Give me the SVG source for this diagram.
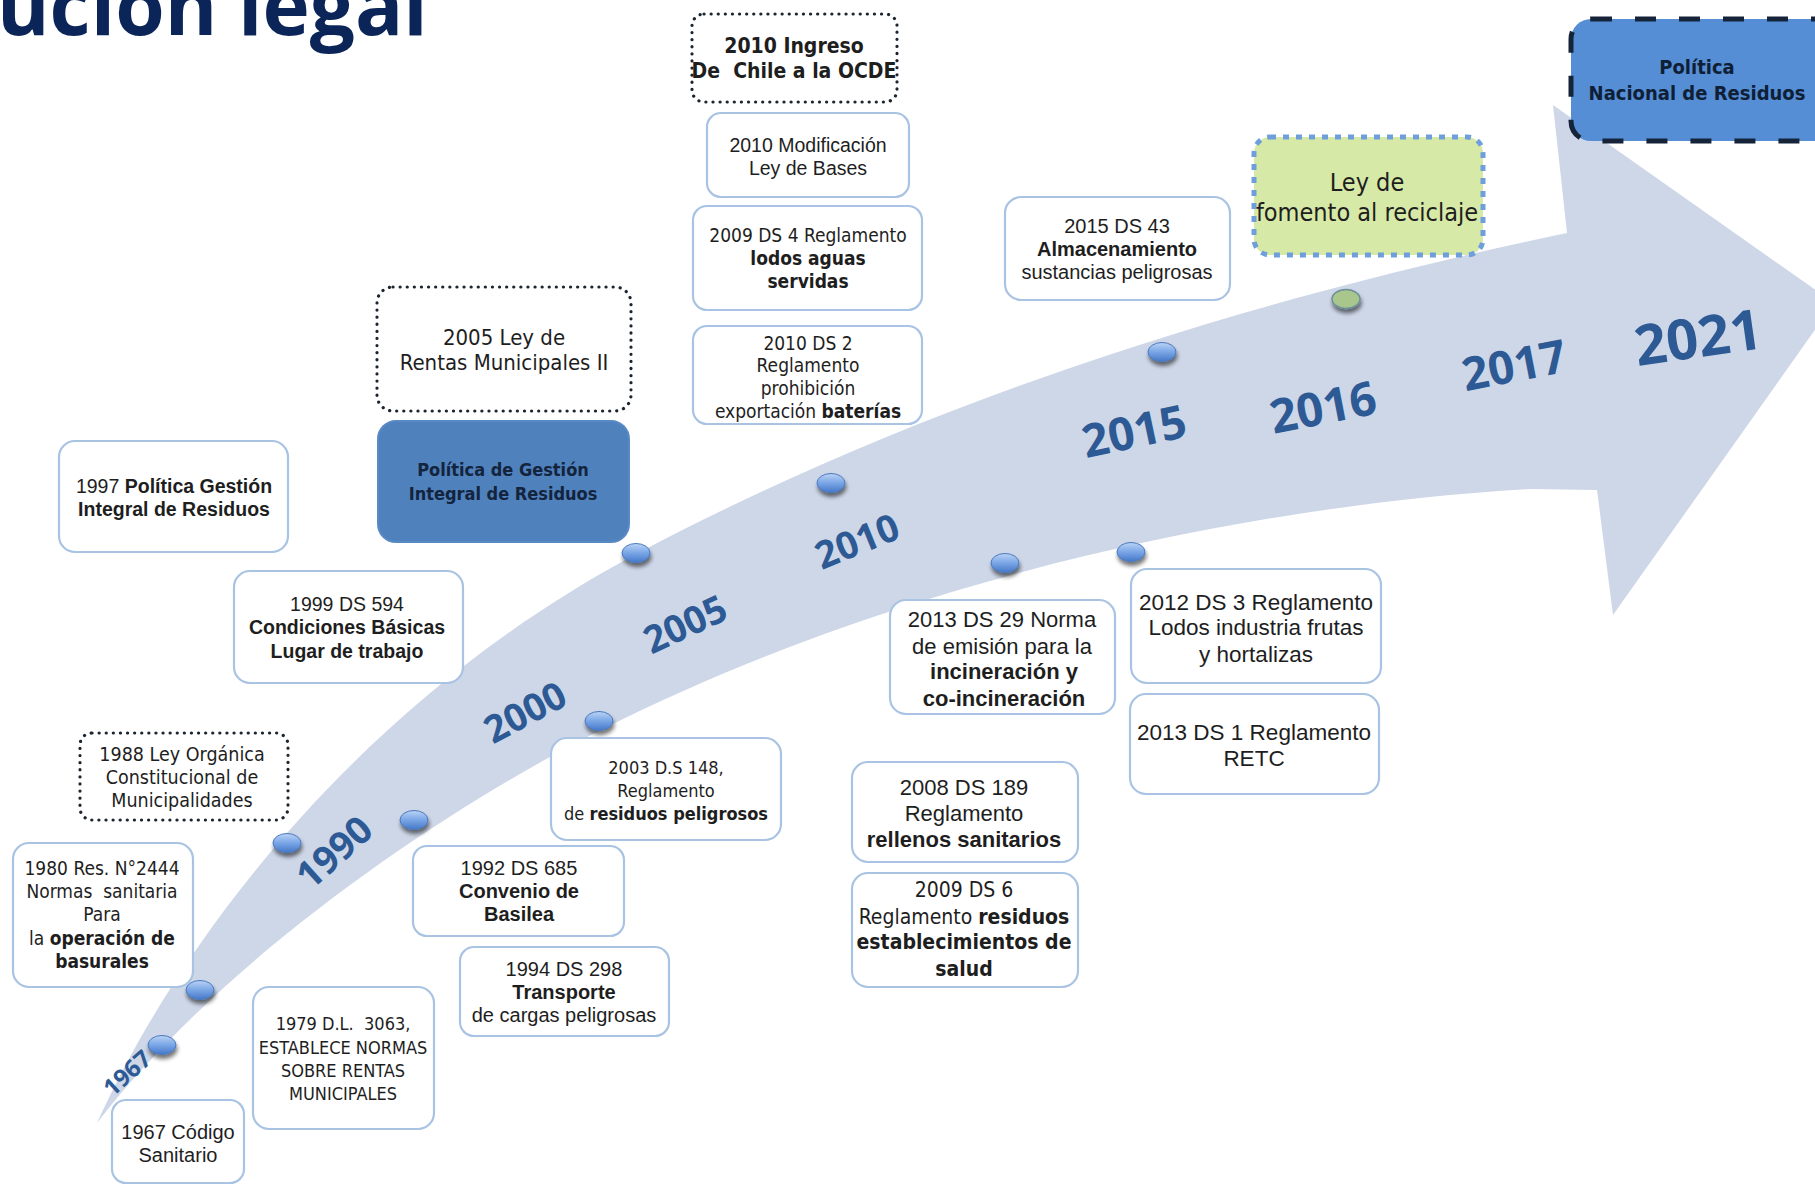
<svg xmlns="http://www.w3.org/2000/svg" width="1815" height="1187" viewBox="0 0 1815 1187">
<defs>
<style>
.bx{fill:#fff;stroke:#a9c3e3;stroke-width:2.2}
.dt{fill:#fff;stroke:#1b2530;stroke-width:3.2;stroke-dasharray:0.1 7;stroke-linecap:round}
.ar{font-family:"Liberation Sans",Arial,sans-serif;fill:#1e1e1e;text-anchor:middle}
.th{font-family:"DejaVu Sans Condensed","DejaVu Sans",sans-serif;font-stretch:condensed;fill:#1e1e1e;text-anchor:middle}
.b{font-weight:bold}
.yr{font-family:"Open Sans",sans-serif;font-weight:700;fill:#2d5a94;text-anchor:middle}
.dot{fill:url(#dotg);stroke:#4a78bd;stroke-width:1}
</style>
<linearGradient id="dotg" x1="0" y1="0" x2="0" y2="1">
<stop offset="0" stop-color="#bcd4f5"/>
<stop offset="0.45" stop-color="#7faae8"/>
<stop offset="1" stop-color="#4678c8"/>
</linearGradient>
<filter id="sh" x="-50%" y="-50%" width="200%" height="220%">
<feGaussianBlur in="SourceAlpha" stdDeviation="2.2"/>
<feOffset dx="1" dy="4" result="o"/>
<feComponentTransfer><feFuncA type="linear" slope="0.55"/></feComponentTransfer>
<feMerge><feMergeNode/><feMergeNode in="SourceGraphic"/></feMerge>
</filter>
</defs>
<rect width="1815" height="1187" fill="#fff"/>

<text x="-3" y="35" font-family="'Open Sans',sans-serif" font-weight="700" font-size="80" fill="#0b2559">ución legal</text>

<g id="connectors">
<path id="timeline-arrow" d="M97,1123 C180,940 360,700 640,552 C850,441 1150,320 1567,233 L1553,105 L1834,303 L1613,615 L1597,490 L1530,489 C1250,505 900,580 607,727 C460,800 230,950 97,1123 Z" fill="#ced7e8"/>
<g id="markers" filter="url(#sh)">
<ellipse class="dot" cx="162" cy="1045" rx="14" ry="9.5"/>
<ellipse class="dot" cx="200" cy="990" rx="14" ry="9.5"/>
<ellipse class="dot" cx="287" cy="843" rx="14" ry="9.5"/>
<ellipse class="dot" cx="414" cy="820" rx="14" ry="9.5"/>
<ellipse class="dot" cx="599" cy="721" rx="14" ry="9.5"/>
<ellipse class="dot" cx="636" cy="553" rx="14" ry="9.5"/>
<ellipse class="dot" cx="831" cy="483" rx="14" ry="9.5"/>
<ellipse class="dot" cx="1005" cy="563" rx="14" ry="9.5"/>
<ellipse class="dot" cx="1131" cy="552" rx="14" ry="9.5"/>
<ellipse class="dot" cx="1162" cy="352" rx="14" ry="9.5"/>
<ellipse cx="1346" cy="299" rx="14" ry="9.5" fill="#a9c68c" stroke="#6d8f9a" stroke-width="1.5"/>
</g>
</g>

<g id="years">
<text class="yr" font-size="24" transform="translate(127,1073) rotate(-42)" dy="0.36em">1967</text>
<text class="yr" font-size="38" transform="translate(334,852) rotate(-42)" dy="0.36em">1990</text>
<text class="yr" font-size="38" transform="translate(525,712) rotate(-28)" dy="0.36em">2000</text>
<text class="yr" font-size="38" transform="translate(685,624) rotate(-25)" dy="0.36em">2005</text>
<text class="yr" font-size="38" transform="translate(857,541) rotate(-22)" dy="0.36em">2010</text>
<text class="yr" font-size="46" transform="translate(1134,431) rotate(-12)" dy="0.36em">2015</text>
<text class="yr" font-size="47" transform="translate(1323,407) rotate(-11)" dy="0.36em">2016</text>
<text class="yr" font-size="46" transform="translate(1514,365) rotate(-11)" dy="0.36em">2017</text>
<text class="yr" font-size="56" transform="translate(1698,337) rotate(-8)" dy="0.36em">2021</text>
</g>

<g id="n-ocde">
<rect class="dt" x="692" y="14" width="205" height="88" rx="12"/>
<text class="th b" font-size="21" x="794" y="53">2010 Ingreso</text>
<text class="th b" font-size="21" x="794" y="78" xml:space="preserve">De  Chile a la OCDE</text>
</g>
<g id="n-2010-bases">
<rect class="bx" x="707" y="113" width="202" height="84" rx="14"/>
<text class="ar" font-size="19.5" x="808" y="152">2010 Modificación</text>
<text class="ar" font-size="19.5" x="808" y="175">Ley de Bases</text>
</g>
<g id="n-2009-ds4">
<rect class="bx" x="693" y="206" width="229" height="104" rx="14"/>
<text class="th" font-size="19" x="808" y="242">2009 DS 4 Reglamento</text>
<text class="th b" font-size="19" x="808" y="265">lodos aguas</text>
<text class="th b" font-size="19" x="808" y="288">servidas</text>
</g>
<g id="n-2010-ds2">
<rect class="bx" x="693" y="326" width="229" height="98" rx="14"/>
<text class="th" font-size="19" x="808" y="350">2010 DS 2</text>
<text class="th" font-size="19" x="808" y="372">Reglamento</text>
<text class="th" font-size="19" x="808" y="395">prohibición</text>
<text class="th" font-size="19" x="808" y="418">exportación <tspan class="b">baterías</tspan></text>
</g>
<g id="n-2005-rentas">
<rect class="dt" x="377" y="287" width="254" height="124" rx="16"/>
<text class="th" font-size="22" x="504" y="345">2005 Ley de</text>
<text class="th" font-size="22" x="504" y="370">Rentas Municipales II</text>
</g>
<g id="n-politica-gestion">
<rect x="378" y="421" width="251" height="121" rx="18" fill="#4f81bd" stroke="#5a8ac4" stroke-width="2"/>
<text class="th b" font-size="18" x="503" y="476" style="fill:#14243d">Política de Gestión</text>
<text class="th b" font-size="18" x="503" y="500" style="fill:#14243d">Integral de Residuos</text>
</g>
<g id="n-1997">
<rect class="bx" x="59" y="441" width="229" height="111" rx="16"/>
<text class="ar" font-size="19.5" x="174" y="493">1997 <tspan class="b">Política Gestión</tspan></text>
<text class="ar b" font-size="19.5" x="174" y="516">Integral de Residuos</text>
</g>
<g id="n-1999">
<rect class="bx" x="234" y="571" width="229" height="112" rx="16"/>
<text class="ar" font-size="19.5" x="347" y="611">1999 DS 594</text>
<text class="ar b" font-size="19.5" x="347" y="634">Condiciones Básicas</text>
<text class="ar b" font-size="19.5" x="347" y="658">Lugar de trabajo</text>
</g>
<g id="n-1988">
<rect class="dt" x="80" y="733" width="208" height="87" rx="12"/>
<text class="th" font-size="19.5" x="182" y="761">1988 Ley Orgánica</text>
<text class="th" font-size="19.5" x="182" y="784">Constitucional de</text>
<text class="th" font-size="19.5" x="182" y="807">Municipalidades</text>
</g>
<g id="n-1980">
<rect class="bx" x="13" y="843" width="180" height="144" rx="16"/>
<text class="th" font-size="19" x="102" y="875">1980 Res. N°2444</text>
<text class="th" font-size="19" x="102" y="898" xml:space="preserve">Normas  sanitaria</text>
<text class="th" font-size="19" x="102" y="921">Para</text>
<text class="th" font-size="19" x="102" y="945">la <tspan class="b">operación de</tspan></text>
<text class="th b" font-size="19" x="102" y="968">basurales</text>
</g>
<g id="n-1979">
<rect class="bx" x="253" y="987" width="181" height="142" rx="16"/>
<text class="th" font-size="18" x="343" y="1030" xml:space="preserve">1979 D.L.  3063,</text>
<text class="th" font-size="18" x="343" y="1054">ESTABLECE NORMAS</text>
<text class="th" font-size="18" x="343" y="1077">SOBRE RENTAS</text>
<text class="th" font-size="18" x="343" y="1100">MUNICIPALES</text>
</g>
<g id="n-1967">
<rect class="bx" x="112" y="1100" width="132" height="83" rx="14"/>
<text class="ar" font-size="20" x="178" y="1139">1967 Código</text>
<text class="ar" font-size="20" x="178" y="1162">Sanitario</text>
</g>
<g id="n-1992">
<rect class="bx" x="413" y="846" width="211" height="90" rx="14"/>
<text class="ar" font-size="20" x="519" y="875">1992 DS 685</text>
<text class="ar b" font-size="20" x="519" y="898">Convenio de</text>
<text class="ar b" font-size="20" x="519" y="921">Basilea</text>
</g>
<g id="n-1994">
<rect class="bx" x="460" y="947" width="209" height="89" rx="14"/>
<text class="ar" font-size="20" x="564" y="976">1994 DS 298</text>
<text class="ar b" font-size="20" x="564" y="999">Transporte</text>
<text class="ar" font-size="20" x="564" y="1022">de cargas peligrosas</text>
</g>
<g id="n-2003">
<rect class="bx" x="551" y="738" width="230" height="102" rx="16"/>
<text class="th" font-size="18" x="666" y="774">2003 D.S 148,</text>
<text class="th" font-size="18" x="666" y="797">Reglamento</text>
<text class="th" font-size="18" x="666" y="820">de <tspan class="b">residuos peligrosos</tspan></text>
</g>
<g id="n-2013-ds29">
<rect class="bx" x="890" y="600" width="225" height="114" rx="16"/>
<text class="ar" font-size="22" x="1002" y="627">2013 DS 29 Norma</text>
<text class="ar" font-size="22" x="1002" y="654">de emisión para la</text>
<text class="ar b" font-size="22" x="1004" y="679">incineración y</text>
<text class="ar b" font-size="22" x="1004" y="706">co-incineración</text>
</g>
<g id="n-2012-ds3">
<rect class="bx" x="1131" y="569" width="250" height="114" rx="16"/>
<text class="ar" font-size="22.5" x="1256" y="610">2012 DS 3 Reglamento</text>
<text class="ar" font-size="22.5" x="1256" y="635">Lodos industria frutas</text>
<text class="ar" font-size="22.5" x="1256" y="662">y hortalizas</text>
</g>
<g id="n-2013-ds1">
<rect class="bx" x="1130" y="694" width="249" height="100" rx="16"/>
<text class="ar" font-size="22.5" x="1254" y="740">2013 DS 1 Reglamento</text>
<text class="ar" font-size="22.5" x="1254" y="766">RETC</text>
</g>
<g id="n-2008-ds189">
<rect class="bx" x="852" y="762" width="226" height="100" rx="16"/>
<text class="ar" font-size="22" x="964" y="795">2008 DS 189</text>
<text class="ar" font-size="22" x="964" y="821">Reglamento</text>
<text class="ar b" font-size="22" x="964" y="847">rellenos sanitarios</text>
</g>
<g id="n-2009-ds6">
<rect class="bx" x="852" y="873" width="226" height="114" rx="16"/>
<text class="th" font-size="21" x="964" y="897">2009 DS 6</text>
<text class="th" font-size="21" x="964" y="924">Reglamento <tspan class="b">residuos</tspan></text>
<text class="th b" font-size="21" x="964" y="949">establecimientos de</text>
<text class="th b" font-size="21" x="964" y="976">salud</text>
</g>
<g id="n-2015-ds43">
<rect class="bx" x="1005" y="197" width="225" height="103" rx="16"/>
<text class="ar" font-size="20" x="1117" y="233">2015 DS 43</text>
<text class="ar b" font-size="20" x="1117" y="256">Almacenamiento</text>
<text class="ar" font-size="20" x="1117" y="279">sustancias peligrosas</text>
</g>
<g id="n-ley-reciclaje">
<rect x="1254" y="137" width="229" height="118" rx="16" fill="#d7e9a7" stroke="#6e9fdc" stroke-width="5" stroke-dasharray="6 7"/>
<text class="th" font-size="25" x="1367" y="191">Ley de</text>
<text class="th" font-size="25" x="1367" y="221">fomento al reciclaje</text>
</g>
<g id="n-politica-nacional">
<rect x="1571" y="19" width="270" height="122" rx="20" fill="#558ed5" stroke="#16243a" stroke-width="5" stroke-dasharray="21 23"/>
<text class="th b" font-size="20" x="1697" y="74" style="fill:#0f2036">Política</text>
<text class="th b" font-size="20" x="1697" y="100" style="fill:#0f2036">Nacional de Residuos</text>
</g>
</svg>
